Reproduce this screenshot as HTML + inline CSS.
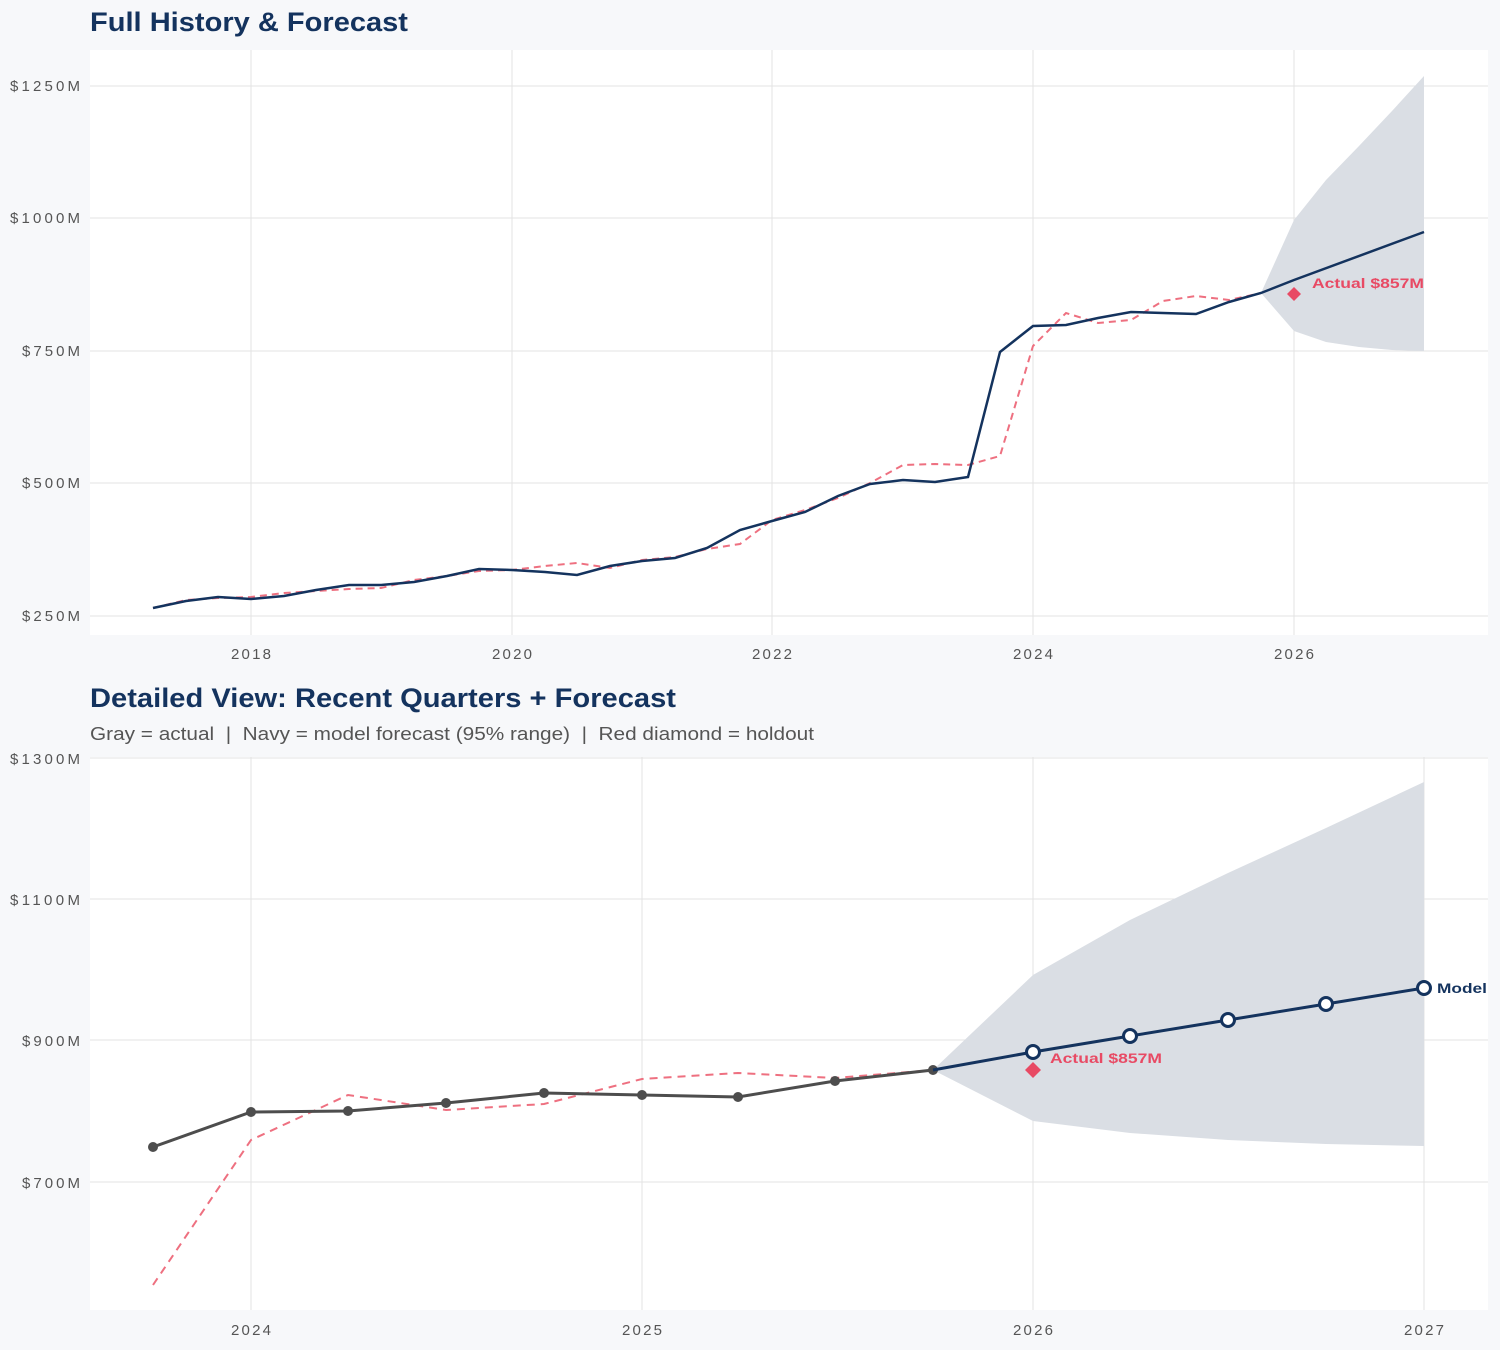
<!DOCTYPE html>
<html><head><meta charset="utf-8"><style>
html,body{margin:0;padding:0;background:#f7f8fa;}
svg{display:block;font-family:"Liberation Sans",sans-serif;}
</style></head><body>
<svg width="1500" height="1350" viewBox="0 0 1500 1350">
<rect width="1500" height="1350" fill="#f7f8fa"/>
<!-- TOP -->
<text x="90" y="31" font-size="27" font-weight="bold" fill="#14335e" textLength="318" lengthAdjust="spacingAndGlyphs">Full History &amp; Forecast</text>
<rect x="90" y="50" width="1398" height="585" fill="#fff"/>
<g stroke="#e3e3e3" stroke-width="1">
<line x1="90" x2="1488" y1="616" y2="616"/><line x1="90" x2="1488" y1="483" y2="483"/><line x1="90" x2="1488" y1="351" y2="351"/><line x1="90" x2="1488" y1="218" y2="218"/><line x1="90" x2="1488" y1="86" y2="86"/>
<line x1="251" x2="251" y1="50" y2="635"/><line x1="512" x2="512" y1="50" y2="635"/><line x1="772" x2="772" y1="50" y2="635"/><line x1="1033" x2="1033" y1="50" y2="635"/><line x1="1294" x2="1294" y1="50" y2="635"/>
</g>
<g font-size="15" fill="#555" text-anchor="end" lengthAdjust="spacingAndGlyphs">
<text x="80" y="621" textLength="58">$250M</text><text x="80" y="488" textLength="58">$500M</text><text x="80" y="356" textLength="58">$750M</text><text x="80" y="223" textLength="70">$1000M</text><text x="80" y="91" textLength="70">$1250M</text>
</g>
<g font-size="15" fill="#555" text-anchor="middle">
<text x="251" y="659" textLength="40">2018</text><text x="512" y="659" textLength="40">2020</text><text x="772" y="659" textLength="40">2022</text><text x="1033" y="659" textLength="40">2024</text><text x="1294" y="659" textLength="40">2026</text>
</g>
<polygon points="1261,293 1294,220 1326,180 1359,146 1392,111 1424,76 1424,351 1392,350 1359,347 1326,342 1294,331" fill="#dadee4"/>
<polyline fill="none" stroke="#ee7080" stroke-width="2" stroke-dasharray="7,5" points="153,608 186,600 218,598 251,597 284,593 316,591 349,589 381,588 414,580 447,576 479,571 512,570 545,566 577,563 610,568 642,560 675,557 707,549 740,544 772,520 805,510 838,498 870,483 903,465 935,464 968,465 1000,456 1033,346 1066,313 1098,323 1131,320 1163,301 1196,296 1229,300 1261,293"/>
<polyline fill="none" stroke="#14335e" stroke-width="2.5" points="153,608 186,601 218,597 251,599 284,596 316,590 349,585 381,585 414,582 447,576 479,569 512,570 545,572 577,575 610,566 642,561 675,558 707,548 740,530 772,521 805,512 838,496 870,484 903,480 935,482 968,477 1000,352 1033,326 1066,325 1098,318 1131,312 1163,313 1196,314 1229,302 1261,293 1294,280 1424,232"/>
<polygon points="1294,287 1301,294 1294,301 1287,294" fill="#e84a64"/>
<text x="1312" y="288" font-size="14" font-weight="bold" fill="#e84a64" textLength="112" lengthAdjust="spacingAndGlyphs">Actual $857M</text>
<!-- BOTTOM -->
<text x="90" y="707" font-size="27" font-weight="bold" fill="#14335e" textLength="586" lengthAdjust="spacingAndGlyphs">Detailed View: Recent Quarters + Forecast</text>
<text x="90" y="740" font-size="18" fill="#555" style="white-space:pre" textLength="724" lengthAdjust="spacingAndGlyphs">Gray = actual  |  Navy = model forecast (95% range)  |  Red diamond = holdout</text>
<rect x="90" y="757" width="1398" height="553" fill="#fff"/>
<g stroke="#e3e3e3" stroke-width="1">
<line x1="90" x2="1488" y1="758" y2="758"/><line x1="90" x2="1488" y1="899" y2="899"/><line x1="90" x2="1488" y1="1040" y2="1040"/><line x1="90" x2="1488" y1="1182" y2="1182"/>
<line x1="251" x2="251" y1="757" y2="1310"/><line x1="642" x2="642" y1="757" y2="1310"/><line x1="1033" x2="1033" y1="757" y2="1310"/><line x1="1424" x2="1424" y1="757" y2="1310"/>
</g>
<g font-size="15" fill="#555" text-anchor="end">
<text x="80" y="764" textLength="70">$1300M</text><text x="80" y="905" textLength="70">$1100M</text><text x="80" y="1046" textLength="58">$900M</text><text x="80" y="1188" textLength="58">$700M</text>
</g>
<g font-size="15" fill="#555" text-anchor="middle">
<text x="251" y="1335" textLength="40">2024</text><text x="642" y="1335" textLength="40">2025</text><text x="1033" y="1335" textLength="40">2026</text><text x="1424" y="1335" textLength="40">2027</text>
</g>
<polygon points="933,1070 1033,975 1130,920 1228,873 1326,828 1424,782 1424,1146 1326,1144 1228,1140 1130,1133 1033,1121" fill="#dadee4"/>
<polyline fill="none" stroke="#ee7080" stroke-width="2" stroke-dasharray="8,6" points="153,1285 251,1140 348,1095 446,1110 544,1104 642,1079 738,1073 835,1078 933,1070"/>
<polyline fill="none" stroke="#4d4d4d" stroke-width="3" points="153,1147 251,1112 348,1111 446,1103 544,1093 642,1095 738,1097 835,1081 933,1070"/>
<g fill="#4d4d4d">
<circle cx="153" cy="1147" r="5"/><circle cx="251" cy="1112" r="5"/><circle cx="348" cy="1111" r="5"/><circle cx="446" cy="1103" r="5"/><circle cx="544" cy="1093" r="5"/><circle cx="642" cy="1095" r="5"/><circle cx="738" cy="1097" r="5"/><circle cx="835" cy="1081" r="5"/><circle cx="933" cy="1070" r="5"/>
</g>
<polyline fill="none" stroke="#14335e" stroke-width="3" points="933,1070 1033,1052 1130,1036 1228,1020 1326,1004 1424,988"/>
<g fill="#fff" stroke="#14335e" stroke-width="3">
<circle cx="1033" cy="1052" r="6.5"/><circle cx="1130" cy="1036" r="6.5"/><circle cx="1228" cy="1020" r="6.5"/><circle cx="1326" cy="1004" r="6.5"/><circle cx="1424" cy="988" r="6.5"/>
</g>
<polygon points="1033,1062 1041,1070 1033,1078 1025,1070" fill="#e84a64"/>
<text x="1050" y="1063" font-size="14" font-weight="bold" fill="#e84a64" textLength="112" lengthAdjust="spacingAndGlyphs">Actual $857M</text>
<text x="1437" y="993" font-size="14" font-weight="bold" fill="#14335e" textLength="50" lengthAdjust="spacingAndGlyphs">Model</text>
</svg>
</body></html>
